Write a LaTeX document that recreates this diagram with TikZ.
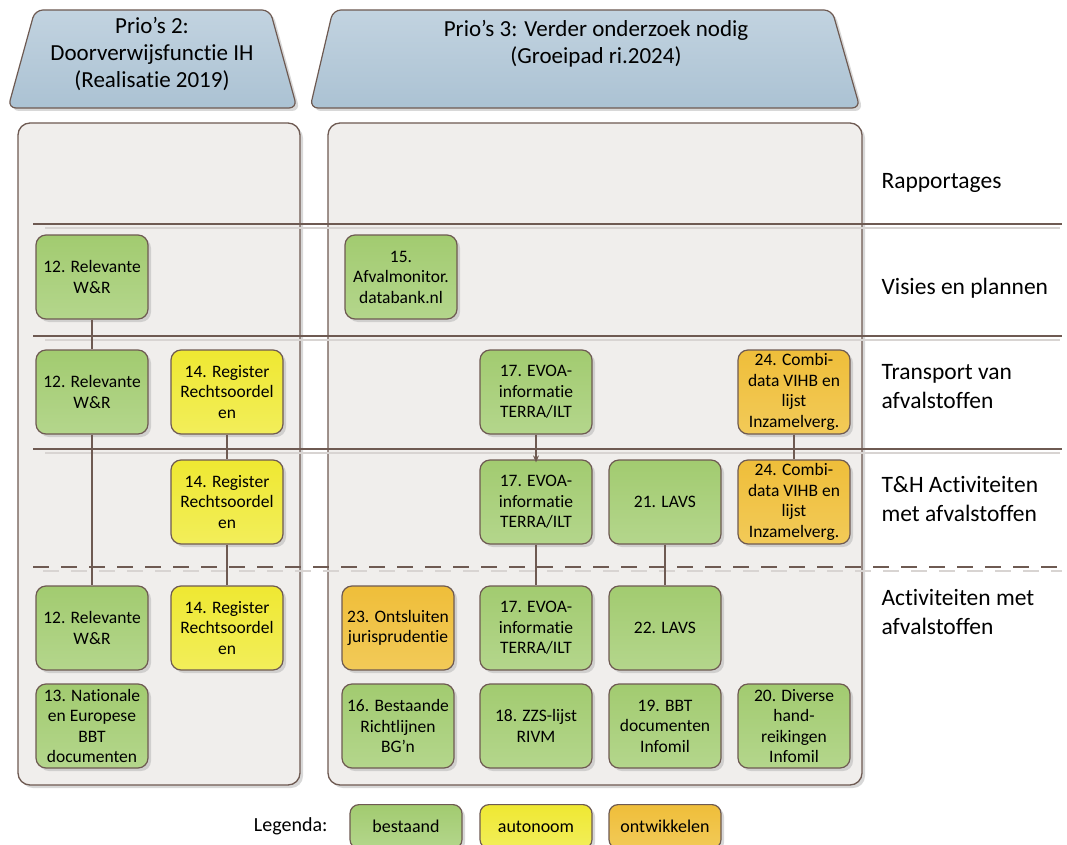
\documentclass[tikz,border=0pt]{standalone}
\usepackage{fontspec}
\setmainfont{Carlito}[Ligatures=NoCommon]
\usetikzlibrary{shadows,arrows.meta}
\definecolor{brd}{HTML}{6E5A52}
\definecolor{grA}{HTML}{A2CB70}
\definecolor{grB}{HTML}{B4D68C}
\definecolor{yeA}{HTML}{EFE832}
\definecolor{yeB}{HTML}{F2EE5A}
\definecolor{orA}{HTML}{EFBE3A}
\definecolor{orB}{HTML}{F2CA58}
\definecolor{blA}{HTML}{C2D3E0}
\definecolor{blB}{HTML}{ABC2D3}
\definecolor{pane}{HTML}{F0EEEC}
\definecolor{lineshade}{HTML}{D8D4D2}
\begin{document}
\begin{tikzpicture}[x=1pt,y=-1pt,
  shd/.style={drop shadow={shadow xshift=3pt,shadow yshift=-3pt,fill=black!30,opacity=0.5}},
  box/.style={draw=brd,line width=1.2pt,rounded corners=10pt,minimum width=112pt,minimum height=84pt,
    inner sep=1pt,align=center,font=\fontsize{17.5}{20.5}\selectfont,shd},
  green/.style={box,top color=grA,bottom color=grB},
  yellow/.style={box,top color=yeA,bottom color=yeB},
  orange/.style={box,top color=orA,bottom color=orB},
  legbox/.style={draw=brd,line width=1.2pt,rounded corners=9pt,minimum width=112pt,minimum height=44pt,
    anchor=north,font=\fontsize{18}{21}\selectfont,shd},
  panel/.style={draw=brd,line width=1.3pt,rounded corners=12pt,fill=pane,shd},
  head/.style={draw=brd,line width=1.2pt,rounded corners=8pt,top color=blA,bottom color=blB,shd},
  headtext/.style={align=center,font=\fontsize{23}{27}\selectfont},
  lane/.style={anchor=west,align=left,font=\fontsize{23.5}{29}\selectfont},
  lanel/.style={draw=brd,line width=1.2pt},
  lanes/.style={draw=lineshade,line width=1.2pt},
  conn/.style={draw=brd,line width=1.2pt}
]
\useasboundingbox (0,0) rectangle (1067,845);
\fill[white] (0,0) rectangle (1067,845);

% headers
\path[head] (35,10) -- (270,10) -- (297,108) -- (8,108) -- cycle;
\node[headtext] (h2) at (152,54) {Prio’s 2:\\Doorverwijsfunctie IH\\(Realisatie 2019)};
\path[head] (333,10) -- (832,10) -- (860,108) -- (310,108) -- cycle;
\node[headtext] (h3) at (596,44) {Prio’s 3: Verder onderzoek nodig\\(Groeipad ri.2024)};

% panels
\path[panel] (18,123) rectangle (300,785);
\path[panel] (328,123) rectangle (862,785);

% lane lines
\foreach \yy in {224,336,449}{
  \draw[lanes] (45,\yy+4) -- (1060,\yy+4);
  \draw[lanel] (33,\yy) -- (1062,\yy);
}
\draw[lanes,dash pattern=on 16pt off 12pt] (43,571) -- (1062,571);
\draw[lanel,dash pattern=on 16pt off 12pt] (33,567) -- (1062,567);

% lane labels
\node[lane] (l1) at (878,183) {Rapportages};
\node[lane] (l2) at (878,288) {Visies en plannen};
\node[lane] (l3) at (878,387) {Transport van\\afvalstoffen};
\node[lane] (l4) at (878,499) {T\&H Activiteiten\\met afvalstoffen};
\node[lane] (l5) at (878,612) {Activiteiten met\\afvalstoffen};

% row 1
\node[green] (n12a) at (92,277) {12. Relevante\\W\&R};
\node[green] (n15) at (401,277) {15.\\Afvalmonitor.\\databank.nl};
% row 2
\node[green] (n12b) at (92,392) {12. Relevante\\W\&R};
\node[yellow] (n14a) at (227,392) {14. Register\\Rechtsoordel\\en};
\node[green] (n17a) at (536,392) {17. EVOA-\\informatie\\TERRA/ILT};
\node[orange] (n24a) at (794,392) {24. Combi-\\data VIHB en\\lijst\\Inzamelverg.};
% row 3
\node[yellow] (n14b) at (227,502) {14. Register\\Rechtsoordel\\en};
\node[green] (n17b) at (536,502) {17. EVOA-\\informatie\\TERRA/ILT};
\node[green] (n21) at (665,502) {21. LAVS};
\node[orange] (n24b) at (794,502) {24. Combi-\\data VIHB en\\lijst\\Inzamelverg.};
% row 4
\node[green] (n12c) at (92,628) {12. Relevante\\W\&R};
\node[yellow] (n14c) at (227,628) {14. Register\\Rechtsoordel\\en};
\node[orange] (n23) at (398,628) {23. Ontsluiten\\jurisprudentie};
\node[green] (n17c) at (536,628) {17. EVOA-\\informatie\\TERRA/ILT};
\node[green] (n22) at (665,628) {22. LAVS};
% row 5
\node[green] (n13) at (92,726) {13. Nationale\\en Europese\\BBT\\documenten};
\node[green] (n16) at (398,726) {16. Bestaande\\Richtlijnen\\BG’n};
\node[green] (n18) at (536,726) {18. ZZS-lijst\\RIVM};
\node[green] (n19) at (665,726) {19. BBT\\documenten\\Infomil};
\node[green] (n20) at (794,726) {20. Diverse\\hand-\\reikingen\\Infomil};

% connectors
\draw[conn] (n12a.south) -- (n12b.north);
\draw[conn] (n12b.south) -- (n12c.north);
\draw[conn] (n14a.south) -- (n14b.north);
\draw[conn] (n14b.south) -- (n14c.north);
\draw[conn,-{Stealth[length=7pt,width=6pt]}] (n17a.south) -- ([yshift=-3pt]n17b.north);
\draw[conn] (n17b.south) -- (n17c.north);
\draw[conn] (n21.south) -- (n22.north);
\draw[conn] (n24a.south) -- (n24b.north);

% legend
\node[anchor=east,font=\fontsize{20}{22}\selectfont] (leg) at (331,826) {Legenda:};
\node[legbox,top color=grA,bottom color=grB] (lg1) at (406,804) {bestaand};
\node[legbox,top color=yeA,bottom color=yeB] (lg2) at (536,804) {autonoom};
\node[legbox,top color=orA,bottom color=orB] (lg3) at (665,804) {ontwikkelen};
\end{tikzpicture}
\end{document}
